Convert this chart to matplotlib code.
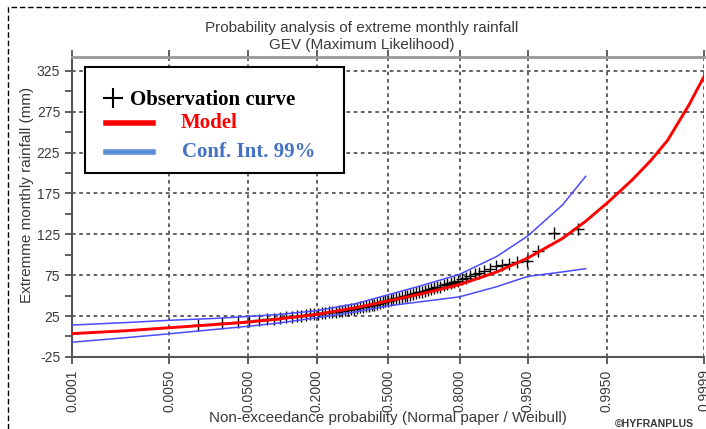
import numpy as np
import matplotlib
matplotlib.use("Agg")
import matplotlib.pyplot as plt
from matplotlib.lines import Line2D
from matplotlib.patches import Rectangle
from statistics import NormalDist

# x axis: non-exceedance probability on normal paper
tick_probs = [0.0001, 0.0050, 0.0500, 0.2000, 0.5000, 0.8000, 0.9500, 0.9950, 0.9999]
tick_labels = ["0.0001", "0.0050", "0.0500", "0.2000", "0.5000", "0.8000", "0.9500", "0.9950", "0.9999"]
y_ticks = [-25, 25, 75, 125, 175, 225, 275, 325]
y_minor = [0, 50, 100, 150, 200, 250, 300]

# GEV model curve
model_p = [0.0001, 0.001, 0.005, 0.02, 0.05, 0.1, 0.2, 0.35, 0.5, 0.65, 0.8, 0.9,
           0.95, 0.98, 0.99, 0.995, 0.998, 0.999, 0.9995, 0.9998, 0.9999]
model_mm = [3.5, 7, 10.7, 14.5, 17.6, 21.5, 27, 35, 43.5, 52, 63.5, 79,
            96, 120, 141, 163, 192, 215, 240, 283, 318]

# 99% confidence interval
ci_p = [0.0001, 0.001, 0.005, 0.02, 0.05, 0.1, 0.2, 0.35, 0.5, 0.65, 0.8, 0.9, 0.95, 0.98, 0.99]
ci_upper = [14, 17, 19.8, 22, 24.5, 27, 31.5, 40, 51, 62, 76, 98, 123, 161, 196]
ci_lower = [-7, -1.5, 3.3, 8.5, 12.5, 16.5, 23, 30, 37.5, 42.5, 48.5, 61, 73.5, 79, 83]

# observed monthly maxima, sorted (mm)
obs_mm = [14, 16, 18, 19, 20, 21, 22, 23, 23.5, 24, 25, 25.5, 26, 27, 27.5, 28, 28.5, 29, 29.5, 30,
          30.5, 31, 31.5, 32, 33, 33.5, 34, 35, 35.5, 36, 37, 37.5, 38.5, 39, 40, 41, 42, 43,
          44, 45, 46, 46.5, 47, 48, 49, 50, 51, 52, 53, 54, 55, 56, 57, 58, 59, 60, 61, 62.5, 64, 65, 66.5,
          68, 70, 72, 74, 76, 78, 80, 82, 86, 88, 89, 91, 92, 104, 126, 131]

norm = NormalDist()


def z(p):
    return np.array([norm.inv_cdf(v) for v in p])


def main():
    plt.rcParams['font.family'] = ['Liberation Sans', 'DejaVu Sans']
    txt = '#3a3a3a'
    fig = plt.figure(figsize=(7.06, 4.29), dpi=100)
    ax = fig.add_axes([0.102, 0.168, 0.8952, 0.6993])

    # Weibull plotting positions i/(n+1)
    n = len(obs_mm)
    obs_p = np.arange(1, n + 1) / (n + 1)

    ax.plot(z(obs_p), obs_mm, linestyle='none', marker='+', ms=9, mew=1.0, color='black', zorder=3)
    ax.plot(z(ci_p), ci_upper, color='#4a4aff', lw=1.1, zorder=4)
    ax.plot(z(ci_p), ci_lower, color='#4a4aff', lw=1.1, zorder=4)
    ax.plot(z(model_p), model_mm, color='#ff0000', lw=2.1, zorder=5)

    ax.set_xlim(z([0.0001])[0], z([0.9999])[0])
    ax.set_ylim(-25, 342)
    ax.set_xticks(z(tick_probs))
    ax.set_xticklabels(tick_labels, rotation=90, fontsize=10, color=txt)
    ax.set_yticks(y_ticks)
    ax.set_yticklabels([str(v) for v in y_ticks], fontsize=10, color=txt)
    ax.set_yticks(y_minor, minor=True)
    ax.tick_params(axis='x', direction='out', length=5, width=1.2, color='#444', top=True, pad=4)
    ax.tick_params(axis='y', which='both', direction='out', length=5, width=1.2, color='#444')

    ax.grid(True, which='major', color='#555555', linestyle=(0, (2, 2)), lw=1.3)
    for s in ['left', 'bottom']:
        ax.spines[s].set_color('#555555')
        ax.spines[s].set_linewidth(1.5)
    ax.spines['top'].set_color('#999999')
    ax.spines['top'].set_linewidth(2)
    ax.spines['right'].set_visible(False)

    # pasted-style legend box
    ax.add_patch(Rectangle((0.0206, 0.613), 0.409, 0.354, transform=ax.transAxes,
                           facecolor='white', edgecolor='black', lw=1.5, zorder=10))
    serif = dict(family=['Liberation Serif', 'DejaVu Serif'], weight='bold', fontsize=15)
    ax.add_line(Line2D([0.065], [0.863], marker='+', ms=15, mew=1.5, color='black',
                       transform=ax.transAxes, zorder=11))
    ax.text(0.092, 0.857, "Observation curve", transform=ax.transAxes, va='center',
            color='black', zorder=11, **serif)
    ax.add_line(Line2D([0.053, 0.128], [0.78, 0.78], lw=4, color='#ff0000',
                       transform=ax.transAxes, zorder=11))
    ax.text(0.172, 0.78, "Model", transform=ax.transAxes, va='center',
            color='#ff0000', zorder=11, **serif)
    ax.add_line(Line2D([0.053, 0.128], [0.683, 0.683], lw=4, color='#5b8dd9',
                       transform=ax.transAxes, zorder=11))
    ax.text(0.174, 0.683, "Conf. Int. 99%", transform=ax.transAxes, va='center',
            color='#4472c4', zorder=11, **serif)

    fig.text(0.512, 0.935, "Probability analysis of extreme monthly rainfall",
             ha='center', va='center', fontsize=11, color=txt)
    fig.text(0.512, 0.895, "GEV (Maximum Likelihood)", ha='center', va='center',
             fontsize=11, color=txt)
    fig.text(0.038, 1 - 195 / 429, "Extremme monthly rainfall (mm)", rotation=90,
             ha='center', va='center', fontsize=11, color=txt)
    fig.text(0.55, 1 - 418 / 429, "Non-exceedance probability (Normal paper / Weibull)",
             ha='center', va='center', fontsize=11, color=txt)
    fig.text(0.871, 1 - 424 / 429, "©HYFRANPLUS", ha='left', va='center',
             fontsize=7.5, weight='bold', color=txt)

    # dashed frame of the screenshot
    fig.add_artist(Line2D([0.0113, 0.0113, 1.0], [0.0, 0.9837, 0.9837], transform=fig.transFigure,
                          color='black', lw=1, linestyle=(0, (4, 2))))

    fig.savefig("out.png", dpi=100)


if __name__ == "__main__":
    main()
